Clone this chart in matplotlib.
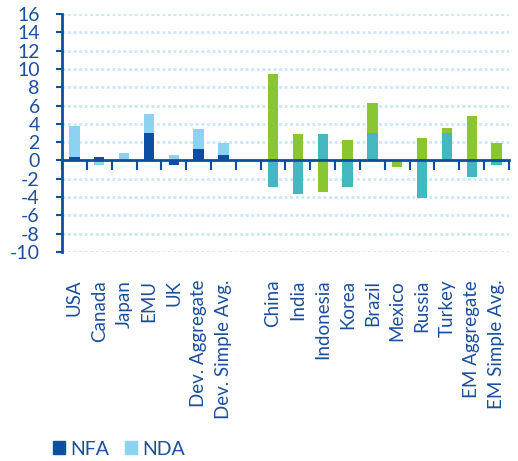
import matplotlib
matplotlib.use("Agg")
import matplotlib.pyplot as plt
import numpy as np
from matplotlib.patches import Patch

categories = ["USA", "Canada", "Japan", "EMU", "UK", "Dev. Aggregate", "Dev. Simple Avg.", "",
              "China", "India", "Indonesia", "Korea", "Brazil", "Mexico", "Russia", "Turkey",
              "EM Aggregate", "EM Simple Avg."]
dev_nfa = [0.35, 0.35, 0.1, 2.95, -0.5, 1.2, 0.55]
dev_nda = [3.45, -0.5, 0.7, 2.15, 0.6, 2.2, 1.35]
em_nfa = [-2.9, -3.7, 2.85, -2.9, 2.95, 0.0, -4.1, 3.05, -1.85, -0.5]
em_nda = [9.4, 2.85, -3.4, 2.2, 3.3, -0.75, 2.4, 0.45, 4.85, 1.95]

TXT = "#1C4F9C"
C_NFA, C_NDA = "#0B4EA2", "#8CD2F1"
C_EMNFA, C_EMNDA = "#43B8C0", "#89C631"

plt.rcParams['font.family'] = ['Lato', 'DejaVu Sans']
plt.rcParams['axes.unicode_minus'] = False
fig = plt.figure(figsize=(5.18, 4.61), dpi=100)
ax = fig.add_axes([0.1197, 0.4534, 0.8629, 0.5163])

x_dev = np.arange(len(dev_nfa))
x_em = np.arange(len(em_nfa)) + len(dev_nfa) + 1
w = 0.42

def stack(ax, x, a, b, ca, cb):
    a = np.array(a); b = np.array(b)
    pos_base = np.where(a > 0, a, 0)
    neg_base = np.where(a < 0, a, 0)
    ax.bar(x, a, w, color=ca, zorder=3)
    base = np.where(b >= 0, pos_base, neg_base)
    ax.bar(x, b, w, bottom=base, color=cb, zorder=3)

stack(ax, x_dev, dev_nfa, dev_nda, C_NFA, C_NDA)
stack(ax, x_em, em_nfa, em_nda, C_EMNFA, C_EMNDA)

n = len(categories)
ax.set_xlim(-0.5, n - 0.5)
ax.set_ylim(-10, 16)
ax.set_yticks(np.arange(-10, 17, 2))
ax.tick_params(axis='y', colors=C_NFA, length=4, width=1.5, pad=12, labelsize=14)
for t in ax.get_yticklabels():
    t.set_color(TXT)

for yv in np.arange(-10, 17, 2):
    if yv != 0:
        ax.axhline(yv, color="#C9E7F7", lw=2.0, ls=(0, (1, 1)), zorder=1)

for s in ['top', 'right']:
    ax.spines[s].set_visible(False)
ax.spines['left'].set_color(C_NFA)
ax.spines['left'].set_linewidth(2)
ax.spines['bottom'].set_position(('data', 0))
ax.spines['bottom'].set_color(C_NFA)
ax.spines['bottom'].set_linewidth(2)
ax.spines['bottom'].set_zorder(4)

ax.set_xticks(np.arange(n))
ax.set_xticklabels([])
ax.tick_params(axis='x', which='major', length=0)
ax.set_xticks(np.arange(n + 1) - 0.5, minor=True)
ax.tick_params(axis='x', which='minor', length=7, width=1.5, color=C_NFA, direction='out')

sec = ax.secondary_xaxis(0)
sec.set_xticks(np.arange(n))
sec.set_xticklabels(categories, rotation=90, fontsize=13.5, color=TXT)
sec.tick_params(axis='x', length=0, pad=20)
sec.spines['bottom'].set_visible(False)

handles = [Patch(color=C_NFA, label="NFA"), Patch(color=C_NDA, label="NDA")]
leg = fig.legend(handles=handles, loc='center left', bbox_to_anchor=(0.102, 0.026), ncol=2,
                 frameon=False, fontsize=14, handlelength=0.6, handleheight=0.6,
                 handletextpad=0.3, columnspacing=0.8, borderpad=0, borderaxespad=0)
for t in leg.get_texts():
    t.set_color(TXT)

fig.savefig("out.png", dpi=100)
